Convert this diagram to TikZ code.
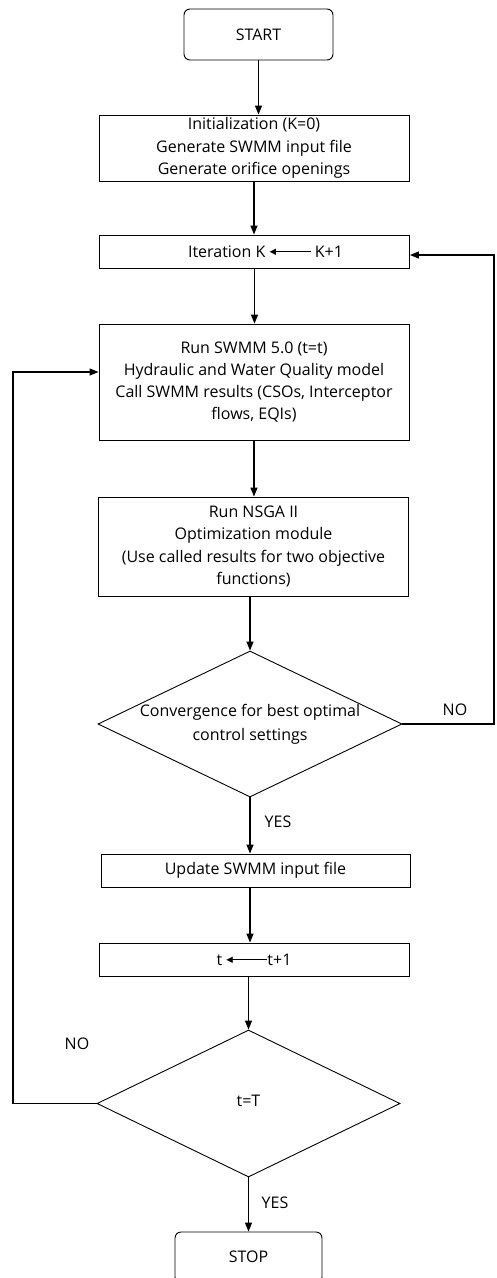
\documentclass[tikz,border=0pt]{standalone}
\usepackage{fontspec}
\setmainfont{Open Sans}
\newfontfamily\dvfont{DejaVu Sans}
\usetikzlibrary{shapes.geometric,arrows.meta,calc}
\newcommand\leftarr[1]{\raisebox{2.7pt}{\dvfont\fontsize{8.5}{8.5}\selectfont ◀}\kern-1.5pt\rule[5.2pt]{#1}{1pt}}
\begin{document}
\begin{tikzpicture}[x=1pt,y=-1pt,
  every node/.style={font=\fontsize{16}{22.3}\selectfont},
  procbox/.style={draw, line width=0.9pt, minimum width=310pt, align=center, inner sep=0pt},
  termbox/.style={draw, line width=0.9pt, rounded corners=6pt, minimum width=149pt, minimum height=51pt, inner sep=0pt},
  decision/.style={draw, diamond, line width=0.9pt, inner sep=0pt, minimum width=304pt, minimum height=146pt},
  arr/.style={line width=1.3pt, -{Triangle[length=9pt,width=7pt]}},
  lbl/.style={inner sep=0pt}]
\useasboundingbox (0,0) rectangle (496,1278);
\clip (0,0) rectangle (496,1278);

\node[termbox] (start) at (258.5,34.5) {START};
\node[procbox, minimum height=66pt] (init) at (254,148) {Initialization (K=0)\\Generate SWMM input file\\Generate orifice openings};
\node[procbox, minimum height=33pt] (iter) at (254.5,251.5) {\hspace*{22pt}Iteration K \leftarr{36pt} K+1};
\node[procbox, minimum height=116pt] (run) at (254,382) {\raisebox{3pt}{\begin{tabular}{@{}c@{}}Run SWMM 5.0 (t=t)\\Hydraulic and Water Quality model\\Call SWMM results (CSOs, Interceptor\\flows, EQIs)\end{tabular}}};
\node[procbox, minimum height=99pt] (nsga) at (253.5,546.5) {Run NSGA II\\Optimization module\\(Use called results for two objective\\functions)};
\node[decision] (d1) at (250,724) {\makebox[0pt]{\raisebox{-6pt}{\begin{tabular}{@{}c@{}}Convergence for best optimal\\[1.5pt]control settings\end{tabular}}}};
\node[procbox, minimum width=309pt, minimum height=33pt] (upd) at (255.5,870.5) {Update SWMM input file};
\node[procbox, minimum height=33pt] (tb) at (254,959.5) {t \leftarr{36pt}t+1};
\node[decision, minimum width=303pt, minimum height=147pt] (d2) at (248.5,1103.5) {\makebox[0pt]{\raisebox{5pt}{t=T}}};
\node[termbox, minimum width=147pt] (stop) at (248.5,1257.5) {\raisebox{2pt}{STOP}};

\node[lbl] (no1) at (455,710) {NO};
\node[lbl] (yes1) at (278,822) {YES};
\node[lbl] (no2) at (77,1044) {NO};
\node[lbl] (yes2) at (275,1203) {YES};

\coordinate (rx) at (494,0);
\coordinate (lx) at (13,0);

\draw[arr] (start.south) -- (start.south |- init.north);
\draw[arr] (init.south) -- (init.south |- iter.north);
\draw[arr] (iter.south) -- (iter.south |- run.north);
\draw[arr] (run.south) -- (run.south |- nsga.north);
\draw[arr] (nsga.south -| d1.north) -- (d1.north);
\draw[arr] (d1.south) -- (d1.south |- upd.north);
\draw[arr] (upd.south -| d1.south) -- (tb.north -| d1.south);
\draw[arr] (tb.south -| d2.north) -- (d2.north);
\draw[arr] (d2.south) -- (d2.south |- stop.north);

\draw[arr] (d1.east) -- (d1.east -| rx) |- ([yshift=-3.5pt]iter.east);
\draw[arr] (d2.west) -- (d2.west -| lx) |- ([yshift=10pt]run.west);
\end{tikzpicture}
\end{document}
